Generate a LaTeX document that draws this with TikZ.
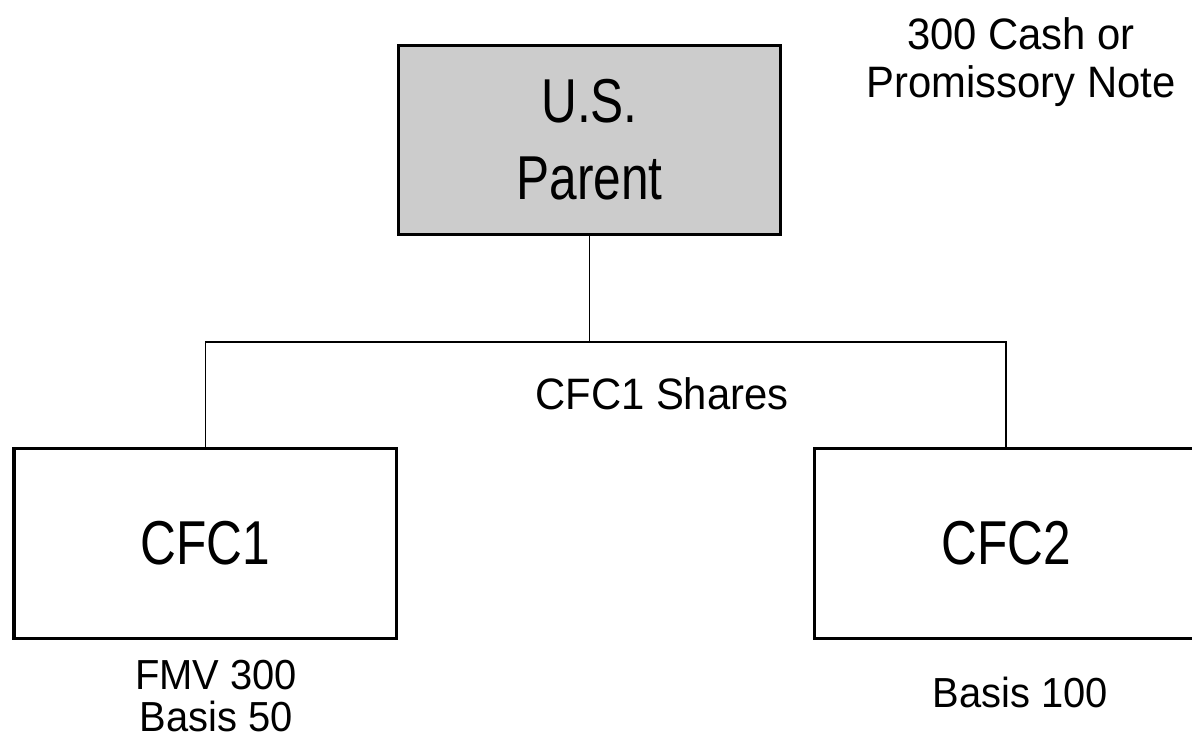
\documentclass[tikz,border=0pt]{standalone}
\usepackage{fontspec}
\setmainfont{Liberation Sans}
\newfontfamily\bigfont{Liberation Sans}[FakeStretch=0.8]
\newfontfamily\smallfont{Liberation Sans}[FakeStretch=0.95]
\tikzset{
  entity/.style={draw=black, line width=3.3pt, inner sep=0pt, align=center,
    font=\bigfont\fontsize{62}{77}\selectfont},
  parentbox/.style={entity, fill=black!20, minimum width=381.6pt, minimum height=188.6pt},
  cfcbox/.style={entity, fill=white, minimum width=382.7pt, minimum height=189.7pt},
  lbl/.style={inner sep=0pt, align=center},
  conn/.style={draw=black, line width=1.5pt},
}
\begin{document}
\begin{tikzpicture}[x=1pt,y=-1pt]
\useasboundingbox (0,0) rectangle (1192,748);
\node[parentbox] (parent) at (589.5,140) {U.S.\\Parent};
\node[cfcbox] (cfc1) at (205.4,543.5) {CFC1};
\node[cfcbox] (cfc2) at (1006,543.5) {CFC2};
\coordinate (busL) at (205,342);
\coordinate (busR) at (1005,342);
\draw[conn] (parent.south) -- (parent.south |- busL);
\draw[conn] (cfc1.north) -- (cfc1.north |- busL) -- (cfc2.north |- busR) -- (cfc2.north);
\node[lbl, font=\smallfont\fontsize{44}{48}\selectfont] (consid) at (1021,62.6) {300 Cash or\\Promissory Note};
\node[lbl, font=\smallfont\fontsize{44}{48}\selectfont] (shares) at (662,394) {CFC1 Shares};
\node[lbl, font=\smallfont\fontsize{42}{42}\selectfont] (cfc1val) at (216,696) {FMV 300\\Basis 50};
\node[lbl, font=\smallfont\fontsize{42}{42}\selectfont] (cfc2val) at (1020,692.7) {Basis 100};
\end{tikzpicture}
\end{document}
